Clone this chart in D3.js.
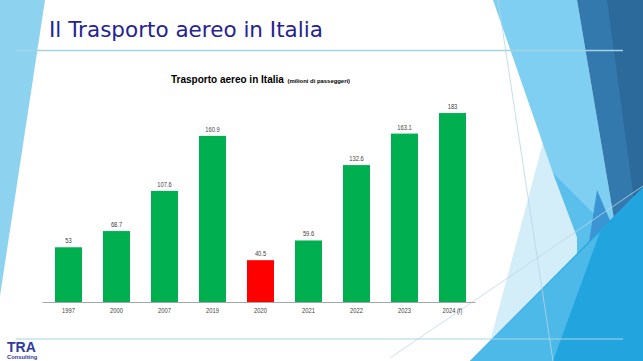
<!DOCTYPE html>
<html><head><meta charset="utf-8">
<script src="https://cdn.jsdelivr.net/npm/d3@7"></script>
<style>html,body{margin:0;padding:0;background:#fff;overflow:hidden}</style>
</head><body>
<svg id="c" width="643" height="361"></svg>
<script>
const categories = ["1997","2000","2007","2019","2020","2021","2022","2023","2024 (f)"];
const values = [53, 68.7, 107.6, 160.9, 40.5, 59.6, 132.6, 163.1, 183];
const highlightCategory = "2020";
const slideTitle = "Il Trasporto aereo in Italia";
const chartTitle = "Trasporto aereo in Italia";
const chartSubtitle = "(milioni di passeggeri)";

const svg = d3.select("#c");
svg.append("rect").attr("width",643).attr("height",361).attr("fill","#fff");

// --- slide decorations ---
const deco = svg.append("g");
const poly = (pts, fill, op=1) => deco.append("polygon").attr("points", pts.map(p=>p.join(",")).join(" ")).attr("fill", fill).attr("opacity", op);
poly([[0,0],[45,0],[0,296]], "#8DD3F0");
poly([[545,135],[553,173],[577,237],[577,256],[490,342]], "#D3EDF9");
poly([[493,0],[577,0],[617,237],[577,237],[553,173]], "#7ECFF1");
poly([[553,173],[617,237],[605,290],[577,256],[577,237]], "#5BBFEC");
poly([[597,190],[617,237],[602,288],[586,262]], "#3A95D2");
poly([[577,0],[643,0],[643,190],[617,237]], "#3479AE");
poly([[607,0],[643,0],[643,190],[634,200]], "#2B6A9B");
poly([[470,361],[643,187],[643,361]], "#22A5DE");
poly([[470,361],[600,232],[553,361]], "#4DB9E8");
const line = (x1,y1,x2,y2,c,w) => deco.append("line").attr("x1",x1).attr("y1",y1).attr("x2",x2).attr("y2",y2).attr("stroke",c).attr("stroke-width",w);
line(498,0,553,361,"#B5D6E4",0.8);
line(390,358,643,186,"#BCD8E4",0.8);
line(16,50.5,623,50.5,"#A3D4E2",1.3);
line(16,339,623,339,"#A9D6E8",1.2);

// slide title
svg.append("text").attr("x",49).attr("y",36.7)
  .attr("font-family","DejaVu Sans, Verdana, sans-serif").attr("font-size",21.5)
  .attr("fill","#25238F").text(slideTitle);

// logo
svg.append("text").attr("x",7).attr("y",352).attr("font-family","Liberation Sans, Arial, sans-serif")
  .attr("font-weight","bold").attr("font-size",14).attr("fill","#2E3A9E").text("TRA");
svg.append("text").attr("x",7).attr("y",359).attr("font-family","Liberation Sans, Arial, sans-serif")
  .attr("font-weight","bold").attr("font-size",5.8).attr("fill","#2E3A9E").text("Consulting");

// chart title
svg.append("text").attr("x",171).attr("y",83.3).attr("font-family","Liberation Sans, Arial, sans-serif")
  .attr("font-weight","bold").attr("font-size",10).attr("fill","#000").text(chartTitle);
svg.append("text").attr("x",287.5).attr("y",83.3).attr("font-family","Liberation Sans, Arial, sans-serif")
  .attr("font-weight","bold").attr("font-size",5.9).attr("fill","#000").text(chartSubtitle);

// --- chart ---
const x = d3.scaleBand().domain(categories).range([44.5, 476.5]).paddingInner(0.4375).paddingOuter(0.21875);
const y = d3.scaleLinear().domain([0, 200]).range([302, 95.5]);
const data = categories.map((c,i)=>({c, v: values[i]}));

const g = svg.append("g");
g.selectAll("rect.bar").data(data).join("rect").attr("class","bar")
  .attr("x", d=>x(d.c)).attr("width", x.bandwidth())
  .attr("y", d=>y(d.v)).attr("height", d=>y(0)-y(d.v))
  .attr("fill", d=> d.c===highlightCategory ? "#FF0000" : "#00B050");

const axis = g.append("g").attr("transform",`translate(0,${y(0)})`)
  .call(d3.axisBottom(x).tickSize(0).tickPadding(11.5));
axis.select(".domain").attr("stroke","#A6A6A6").attr("stroke-width",1).attr("d","M42.5,0.5H475.5");
axis.selectAll(".tick text").attr("font-family","Liberation Sans, Arial, sans-serif").attr("font-size",7)
  .attr("fill","#404040").attr("dy",0).attr("y",11.5).attr("x",0).attr("transform","scale(0.82,1)");

g.selectAll("text.val").data(data).join("text").attr("class","val")
  .attr("transform", d=>`translate(${x(d.c)+x.bandwidth()/2},${y(d.v)-4})scale(0.82,1)`)
  .attr("text-anchor","middle").attr("font-family","Liberation Sans, Arial, sans-serif")
  .attr("font-size",7).attr("fill","#404040").text(d=>String(d.v));
</script>
</body></html>
